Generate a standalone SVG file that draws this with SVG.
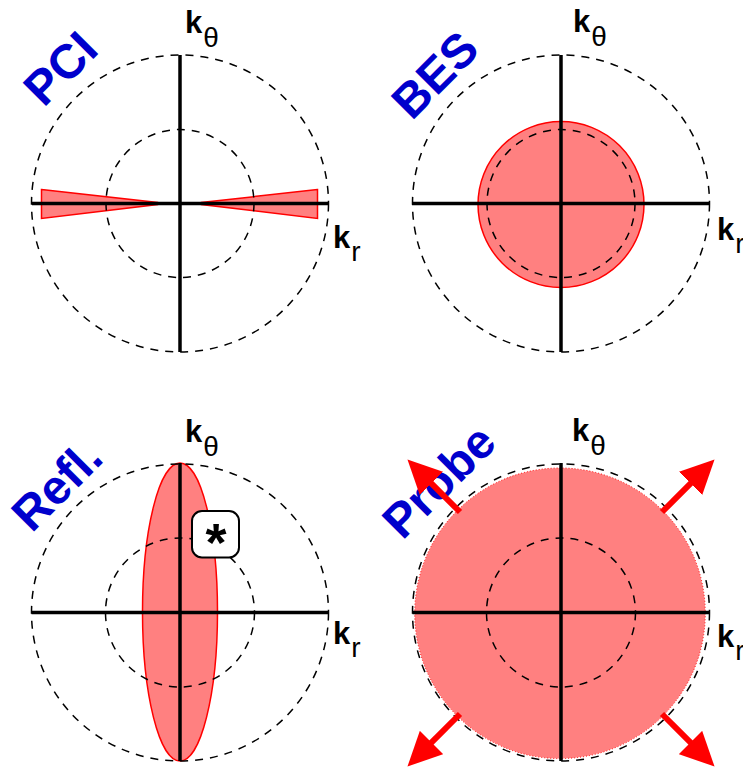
<svg xmlns="http://www.w3.org/2000/svg" width="743" height="767" viewBox="0 0 743 767">
<style>
.dash{fill:none;stroke:#000;stroke-width:1.5;stroke-dasharray:8,7}
.axis{stroke:#000;stroke-width:3.5;fill:none}
.red{fill:#ff8080;stroke:#ff0000;stroke-width:1.5}
.probe{fill:#ff8080;stroke:#ff0000;stroke-width:1;stroke-dasharray:1,2}
.title{font-family:"Liberation Sans",Arial,sans-serif;font-weight:bold;font-size:48px;fill:#0000cc;text-anchor:middle}
.lab{font-family:"Liberation Sans",Arial,sans-serif;font-weight:bold;font-size:31px;fill:#000}
.sub{font-weight:normal;font-size:28px}
.arr{stroke:#ff0000;stroke-width:6;fill:none}
</style>
<defs>
<marker id="ah" viewBox="0 0 34 33" refX="14" refY="16.5" markerWidth="34" markerHeight="33" markerUnits="userSpaceOnUse" orient="auto">
<path d="M0,0 L34,16.5 L0,33 Z" fill="#ff0000"/>
</marker>
</defs>

<g id="pci">
<path class="red" d="M41.5,189.5 L157.5,202.5 L157.5,204.5 L41.5,218.5 Z"/>
<path class="red" d="M317.5,189.5 L201.5,202.5 L201.5,204.5 L317.5,218.5 Z"/>
<circle class="dash" cx="180" cy="203.5" r="148.5"/>
<circle class="dash" cx="180" cy="203.5" r="74"/>
<line class="axis" x1="180" y1="55" x2="180" y2="352"/>
<line class="axis" x1="32" y1="203.5" x2="328" y2="203.5"/>
<text class="title" transform="translate(60,68) rotate(-45)" x="0" y="17">PCI</text>
<text class="lab" x="185" y="33">k<tspan class="sub" dx="1" dy="14">θ</tspan></text>
<text class="lab" x="333" y="247.5">k<tspan class="sub" dx="1" dy="13">r</tspan></text>
</g>

<g id="bes">
<circle class="red" cx="561" cy="204.5" r="83"/>
<circle class="dash" cx="561" cy="203.5" r="148.5"/>
<circle class="dash" cx="561" cy="203.5" r="74"/>
<line class="axis" x1="561" y1="55" x2="561" y2="352"/>
<line class="axis" x1="412" y1="203.5" x2="709" y2="203.5"/>
<text class="title" transform="translate(434.5,74.5) rotate(-45)" x="0" y="17">BES</text>
<text class="lab" x="573" y="31.5">k<tspan class="sub" dx="1" dy="14">θ</tspan></text>
<text class="lab" x="717" y="239.5">k<tspan class="sub" dx="1" dy="13">r</tspan></text>
</g>

<g id="refl">
<ellipse class="red" cx="180" cy="612" rx="37.5" ry="149"/>
<circle class="dash" cx="180" cy="612.5" r="148.5"/>
<circle class="dash" cx="180" cy="612.5" r="74.5"/>
<line class="axis" x1="180" y1="463" x2="180" y2="761"/>
<line class="axis" x1="31.5" y1="612.5" x2="328.5" y2="612.5"/>
<rect x="192" y="511" width="47" height="46.5" rx="10" fill="#fff" stroke="#000" stroke-width="2"/>
<text x="216" y="561" font-family="Liberation Sans,Arial,sans-serif" font-weight="bold" font-size="54" text-anchor="middle">*</text>
<text class="title" transform="translate(56.5,485) rotate(-45)" x="0" y="17">Refl.</text>
<text class="lab" x="185" y="441.5">k<tspan class="sub" dx="1" dy="14">θ</tspan></text>
<text class="lab" x="333" y="643.5">k<tspan class="sub" dx="1" dy="13">r</tspan></text>
</g>

<g id="probe">
<circle class="probe" cx="560" cy="613.3" r="145.3"/>
<circle class="dash" cx="561" cy="612.5" r="148.5"/>
<circle class="dash" cx="561" cy="612.5" r="74.5"/>
<line class="axis" x1="561" y1="463" x2="561" y2="761"/>
<line class="axis" x1="412.5" y1="612.5" x2="709.5" y2="612.5"/>
<text class="title" transform="translate(438.5,481) rotate(-45)" x="0" y="17">Probe</text>
<text class="lab" x="572" y="440.5">k<tspan class="sub" dx="1" dy="14">θ</tspan></text>
<text class="lab" x="717" y="646.5">k<tspan class="sub" dx="1" dy="13">r</tspan></text>
</g>

<g id="connectors">
<line class="arr" x1="662" y1="512" x2="700.4" y2="473.6" marker-end="url(#ah)"/>
<line class="arr" x1="460" y1="512" x2="421.6" y2="473.6" marker-end="url(#ah)"/>
<line class="arr" x1="460" y1="714" x2="421.6" y2="752.4" marker-end="url(#ah)"/>
<line class="arr" x1="662" y1="714" x2="700.4" y2="752.4" marker-end="url(#ah)"/>
</g>
</svg>
